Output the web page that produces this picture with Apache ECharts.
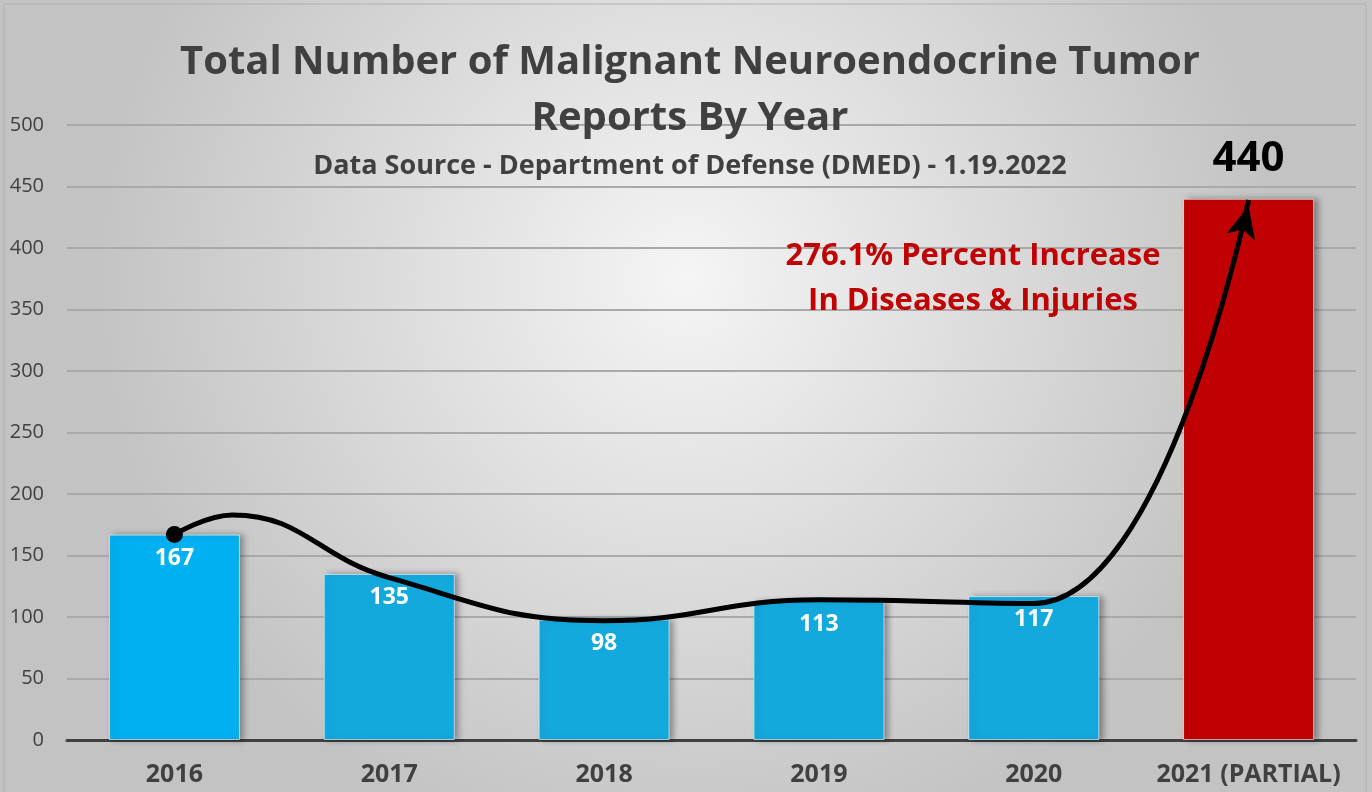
<!DOCTYPE html>
<html>
<head>
<meta charset="utf-8">
<script src="https://cdn.jsdelivr.net/npm/echarts@6/dist/echarts.min.js"></script>
<style>
  html, body { margin: 0; padding: 0; }
  #charts { width: 1372px; height: 792px; }
</style>
</head>
<body>
<div id="charts"></div>
<script>
const years = ['2016', '2017', '2018', '2019', '2020', '2021 (PARTIAL)'];
const reports = [167, 135, 98, 113, 117, 440];
// hand-drawn trend arrow (x in category units)
const trendX = [0, 0.27, 1, 2, 3, 4, 5];
const trendY = [167, 183, 132, 97, 114, 111, 439];
const yTicks = [0, 50, 100, 150, 200, 250, 300, 350, 400, 450, 500];

const FONT = 'Open Sans';
const GREY = '#404040';

const barData = reports.map(function (v, i) {
    const last = i === reports.length - 1;
    return {
        value: v,
        itemStyle: { color: last ? '#c00000' : (i === 0 ? '#00b0f0' : '#14a9dd') },
        label: last ? {
            position: 'top',
            distance: 19,
            color: '#000',
            fontSize: 42,
            fontWeight: 'bold'
        } : {}
    };
});

const curveData = trendX.map(function (x, i) {
    const p = { value: [x, trendY[i]], symbol: 'none' };
    if (i === 0) { p.symbol = 'circle'; p.symbolSize = 17; }
    if (i === trendX.length - 1) {
        p.symbol = 'arrow'; p.symbolSize = [22, 32]; p.symbolRotate = -14; p.symbolOffset = [0, 6];
    }
    return p;
});

const option = {
    backgroundColor: {
        type: 'radial', x: 0.5, y: 0.35, r: 0.75,
        colorStops: [
            { offset: 0, color: '#f5f5f5' },
            { offset: 1, color: '#c3c3c3' }
        ]
    },
    title: [{
        text: 'Total Number of Malignant Neuroendocrine Tumor\nReports By Year',
        left: 685, top: 30, textAlign: 'center',
        textStyle: { fontFamily: FONT, fontSize: 40, fontWeight: 'bold', color: GREY, lineHeight: 56 }
    }, {
        text: 'Data Source - Department of Defense (DMED) - 1.19.2022',
        left: 685, top: 148, textAlign: 'center',
        textStyle: { fontFamily: FONT, fontSize: 27, fontWeight: 'bold', color: GREY }
    }, {
        text: '276.1% Percent Increase\nIn Diseases & Injuries',
        left: 968, top: 229, textAlign: 'center',
        textStyle: { fontFamily: FONT, fontSize: 31, fontWeight: 'bold', color: '#c00000', lineHeight: 45 }
    }],
    grid: { left: 67, right: 16, top: 125, bottom: 52 },
    xAxis: [{
        type: 'category',
        data: years,
        axisLine: { lineStyle: { color: '#404040', width: 3 } },
        axisTick: { show: false },
        axisLabel: { interval: 0, fontFamily: FONT, fontSize: 25, fontWeight: 'bold', color: GREY, margin: 22 }
    }, {
        type: 'value',
        min: -0.5, max: 5.5,
        show: false
    }],
    yAxis: {
        type: 'value',
        min: 0, max: 500, interval: 50,
        axisLine: { show: false },
        axisTick: { show: false },
        axisLabel: {
            fontFamily: FONT, fontSize: 20, color: GREY, margin: 23,
            formatter: function (v) { return yTicks.indexOf(v) >= 0 ? String(v) : ''; }
        },
        splitLine: { lineStyle: { color: '#a9a9a9', width: 2 } }
    },
    series: [{
        type: 'bar',
        data: barData,
        barWidth: '61%',
        itemStyle: {
            borderColor: 'rgba(255,255,255,0.6)', borderWidth: 1,
            shadowColor: 'rgba(0,0,0,0.35)', shadowBlur: 6, shadowOffsetX: 4, shadowOffsetY: 0
        },
        label: {
            show: true,
            position: 'insideTop',
            distance: 12,
            color: '#fff',
            fontFamily: FONT,
            fontSize: 23,
            fontWeight: 'bold'
        },
        z: 2
    }, {
        type: 'line',
        xAxisIndex: 1,
        data: curveData,
        smooth: 0.45,
        lineStyle: { color: '#000', width: 5 },
        itemStyle: { color: '#000' },
        showAllSymbol: true,
        z: 5,
        silent: true
    }],
    graphic: [{
        type: 'rect',
        shape: { x: 4, y: 4, width: 1362, height: 792 },
        style: { fill: 'none', stroke: '#b0b0b0', lineWidth: 1 },
        silent: true
    }]
};

const chart = echarts.init(document.getElementById('charts'));
chart.setOption(option);
</script>
</body>
</html>
